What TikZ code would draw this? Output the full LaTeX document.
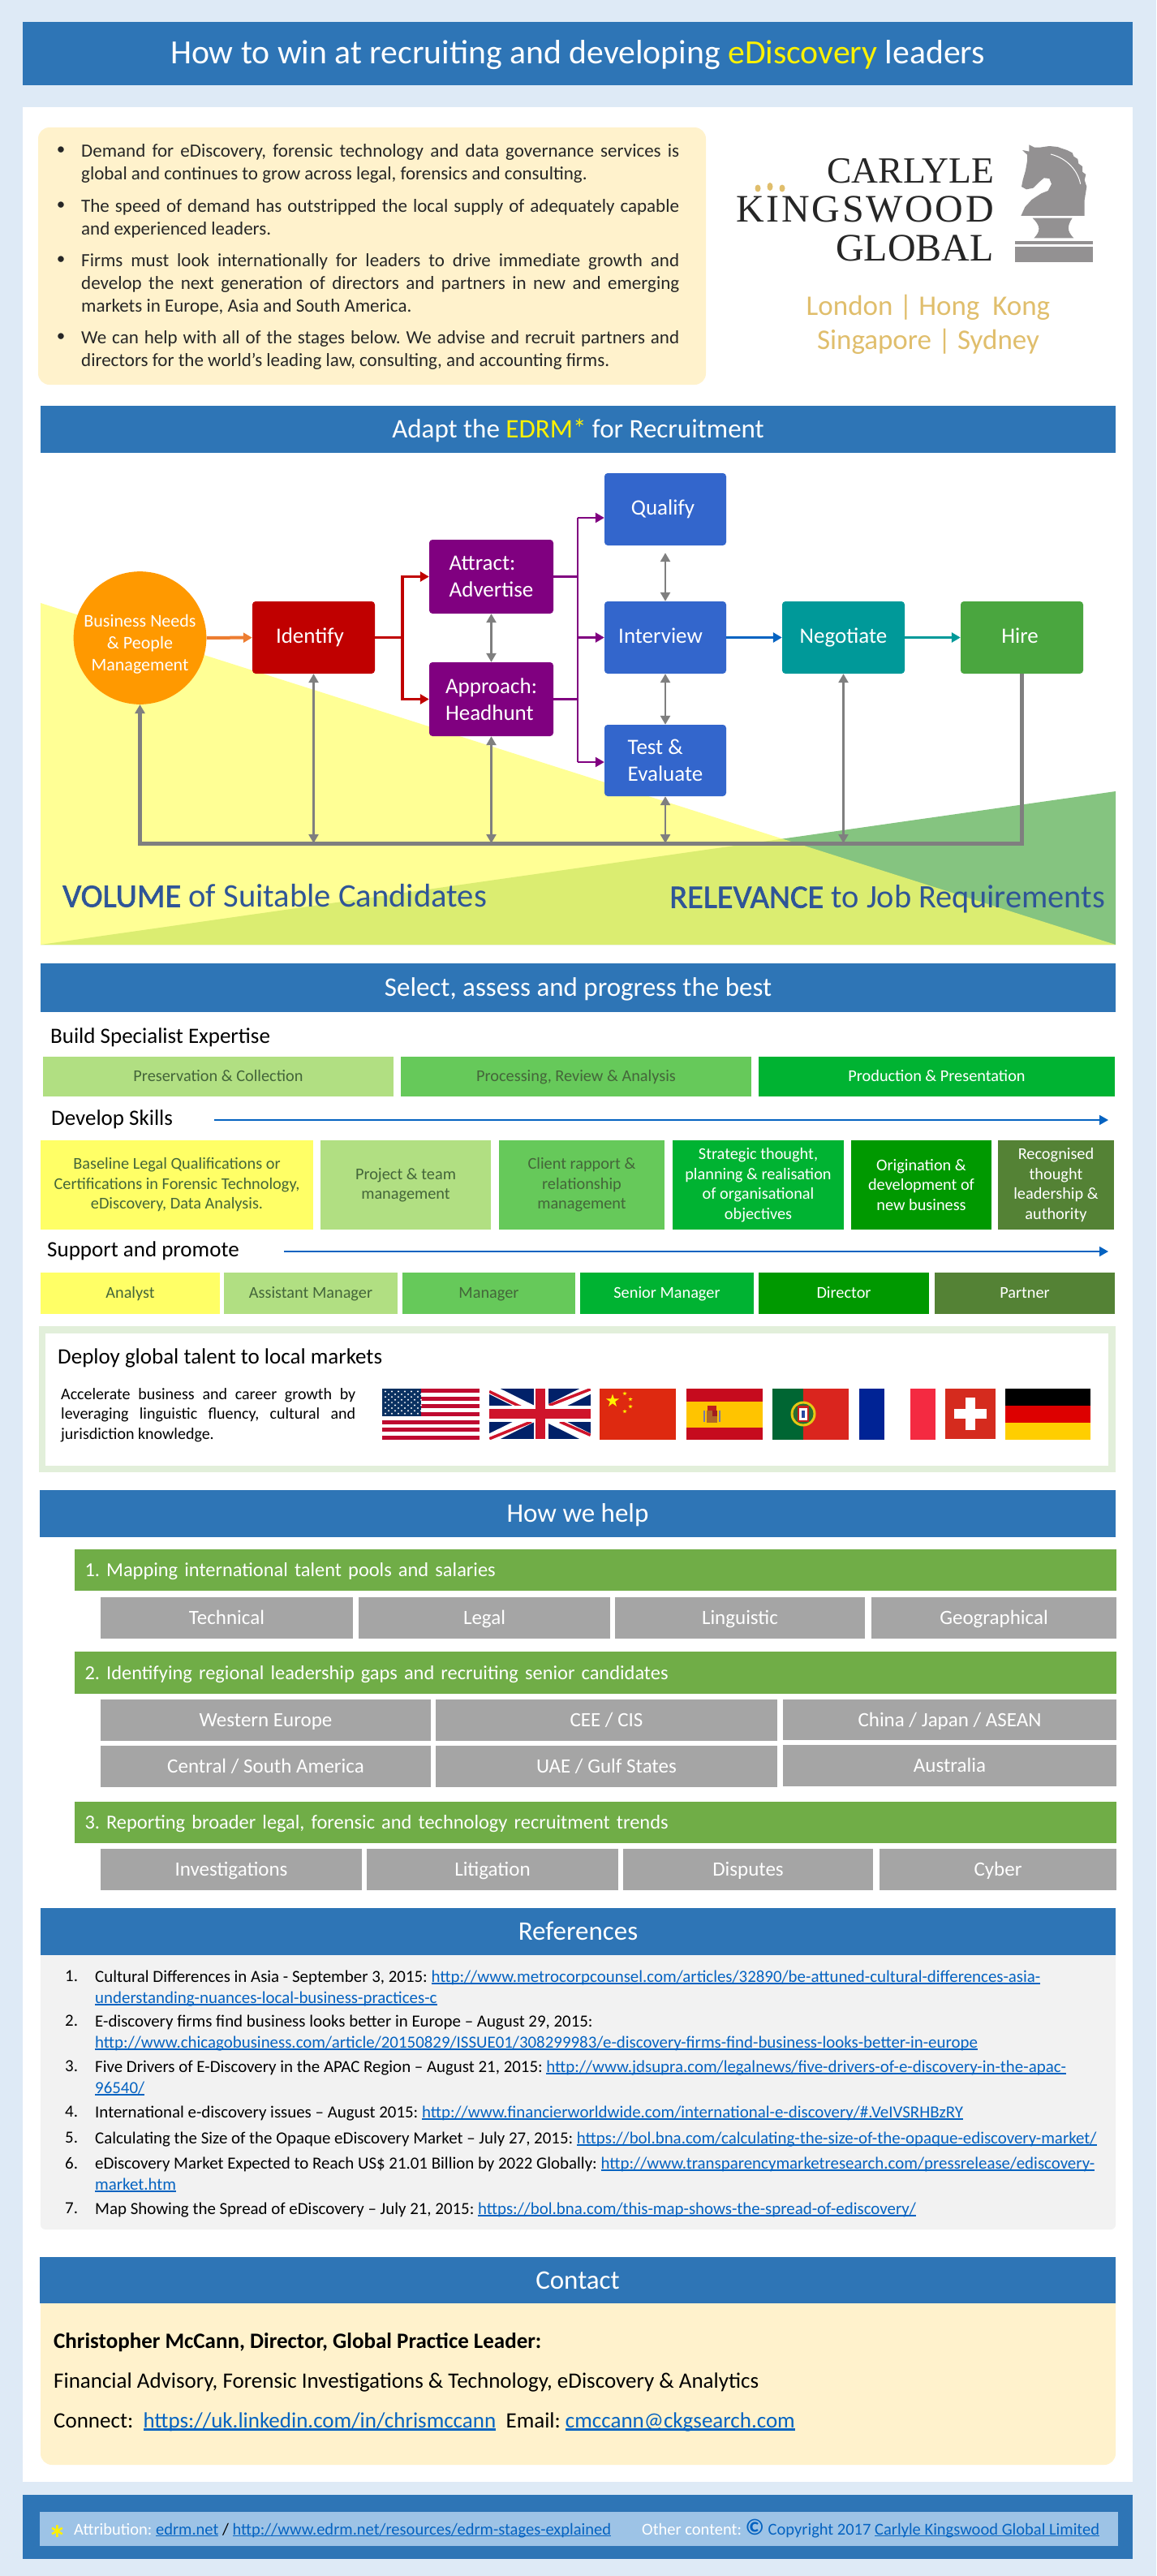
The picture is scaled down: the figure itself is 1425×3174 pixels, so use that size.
\documentclass[tikz,border=0pt]{standalone}
\usepackage{fontspec}
\setmainfont{Carlito}
\newfontfamily\logofont{Liberation Serif}
\usepackage{tikz}
\usetikzlibrary{arrows.meta,shapes.geometric}
\definecolor{pagebg}{HTML}{DEEAF6}
\definecolor{barblue}{HTML}{2E75B6}
\definecolor{footblue}{HTML}{9DC3E6}
\definecolor{cream}{HTML}{FFF2CC}
\definecolor{gold}{HTML}{E0BE6C}
\definecolor{knight}{HTML}{939192}
\definecolor{flowred}{HTML}{C00000}
\definecolor{flowpurple}{HTML}{800080}
\definecolor{flowblue}{HTML}{3366CC}
\definecolor{flowteal}{HTML}{009999}
\definecolor{flowgreen}{HTML}{4AA63F}
\definecolor{flowgrey}{HTML}{7F7F7F}
\definecolor{linkblue}{HTML}{0563C1}
\definecolor{headblue}{HTML}{2F5597}
\definecolor{lightgreen}{HTML}{B1DF82}
\definecolor{midgreen}{HTML}{66C95A}
\definecolor{stronggreen}{HTML}{00B332}
\definecolor{darkgreen}{HTML}{009900}
\definecolor{olive}{HTML}{548235}
\definecolor{softyellow}{HTML}{FFFF66}
\definecolor{helpgreen}{HTML}{70AD47}
\definecolor{helpgrey}{HTML}{A5A5A5}
\definecolor{dimtext}{HTML}{44663A}
\newsavebox{\linkbox}
\newcommand{\linktext}[1]{\textcolor{linkblue}{\sbox{\linkbox}{#1}\rlap{\rule[-.11em]{\wd\linkbox}{.075em}}\usebox{\linkbox}}}
\tikzstyle{sectionbar}=[
  fill=barblue,text=white,inner sep=0pt,align=center,text height=25.5pt,text depth=4pt,font=\fontsize{33}{40}\selectfont
]
\tikzstyle{stage}=[
  rounded corners=4pt,inner sep=0pt,text=white,align=left,font=\fontsize{27}{33}\selectfont
]
\tikzstyle{oneword}=[
  text height=20pt,text depth=6pt
]
\tikzstyle{cell}=[
  inner sep=0pt,align=center,font=\fontsize{20.3}{24.5}\selectfont
]
\tikzstyle{oneline}=[
  text height=16pt,text depth=4pt
]
\tikzstyle{helpbar}=[
  fill=helpgreen,text=white,inner xsep=12.5pt,inner ysep=0pt,text width=1259pt,align=left,text height=20pt,text depth=4pt,font=\fontsize{24.4}{30}\selectfont
]
\tikzstyle{helpcell}=[
  fill=helpgrey,text=white,inner sep=0pt,text height=20pt,text depth=4pt,font=\fontsize{25}{30}\selectfont
]
\tikzstyle{plainline}=[
  anchor=west,inner sep=0pt,text height=.68em,text depth=.18em
]
\tikzstyle{subhead}=[
  plainline,font=\fontsize{27}{33}\selectfont
]
\tikzstyle{para}=[
  anchor=north west,inner sep=0pt,text width=737pt,align=justify,text=black!85,font=\fontsize{23}{28}\selectfont
]
\tikzstyle{refline}=[
  anchor=north west,inner sep=0pt,align=left,font=\fontsize{20.9}{25.5}\selectfont
]
\tikzstyle{footline}=[
  plainline,font=\fontsize{20.5}{25}\selectfont
]
\tikzset{
  boxsize/.style 2 args={minimum width=#1 pt,minimum height=#2 pt},
  flowtip/.style={-{Triangle[length=11pt,width=12pt]}},
  greyarrow/.style={{Triangle[length=11pt,width=12pt]}-{Triangle[length=11pt,width=12pt]},draw=flowgrey,line width=2.5pt},
  redline/.style={draw=flowred,line width=3.5pt},
  purpleline/.style={draw=flowpurple,line width=2.5pt},
  bulletdot/.style={inner sep=0pt,text=black!85,font=\fontsize{21}{28}\selectfont},
  thinblue/.style={flowtip,draw=linkblue,line width=1.8pt},
}
\begin{document}
\frenchspacing
\begin{tikzpicture}[x=1pt,y=-1pt]
  \fill [pagebg] (0,0) rectangle (1425,3174);
  \useasboundingbox (0,0) rectangle (1425,3174);
  \fill [white] (28,132) rectangle (1396,3058);
  \fill [barblue] (28,3074) rectangle (1396,3153);
  \fill [footblue] (49,3095) rectangle (1378,3137);
  % title and intro
  \node (title) at (712,66) [sectionbar,boxsize={1368}{78},text height=30pt,font=\fontsize{41.7}{50}\selectfont] {How to win at recruiting and developing \textcolor{yellow}{eDiscovery} leaders};
  \node (intro) at (458.5,315.5) [fill=cream,rounded corners=14pt,boxsize={823}{317},inner sep=0pt] {};
  \node (b1) at (75,186) [bulletdot] {\textbullet};
  \node (p1) at (100,177) [para] {Demand for eDiscovery, forensic technology and data governance services is\linebreak global and continues to grow across legal, forensics and consulting.};
  \node (b2) at (75,254) [bulletdot] {\textbullet};
  \node (p2) at (100,245) [para] {The speed of demand has outstripped the local supply of adequately capable\linebreak and experienced leaders.};
  \node (b3) at (75,321) [bulletdot] {\textbullet};
  \node (p3) at (100,312) [para] {Firms must look internationally for leaders to drive immediate growth and\linebreak develop the next generation of directors and partners in new and emerging\linebreak markets in Europe, Asia and South America.};
  \node (b4) at (75,416) [bulletdot] {\textbullet};
  \node (p4) at (100,407) [para] {We can help with all of the stages below. We advise and recruit partners and\linebreak directors for the world's leading law, consulting, and accounting firms.};
  % logo
  \node (carlyle) at (1225,211) [anchor=east,inner sep=0pt,font=\logofont\fontsize{45.5}{50}\selectfont,text=black!85] {CARLYLE};
  \node (kingswood) at (1225,258) [anchor=east,inner sep=0pt,font=\logofont\fontsize{48}{50}\selectfont\addfontfeature{LetterSpace=5.5},text=black!85] {KINGSWOOD};
  \node (global) at (1225,306) [anchor=east,inner sep=0pt,font=\logofont\fontsize{48}{50}\selectfont,text=black!85] {GLOBAL};
  \fill [gold] (934,232) ellipse (3.5pt and 4.5pt);
  \fill [gold] (949,230) ellipse (3.5pt and 5pt);
  \fill [gold] (964,232) ellipse (3.5pt and 4.5pt);
  \begin{scope}[shift={(1240,170)},x=.3333pt,y=-.3333pt]
    \fill [knight] (55,288) -- (70,255) -- (95,228) -- (130,205) -- (155,195) -- (168,170) -- (160,150) -- (140,148) -- (120,165) -- (100,185) -- (75,190) -- (57,180) -- (62,155) -- (72,120) -- (78,85) -- (78,62) -- (60,45) -- (85,50) -- (85,25) -- (105,35) -- (125,35) -- (160,30) -- (190,33) -- (225,45) -- (245,55) -- (250,68) -- (265,78) -- (268,95) -- (282,105) -- (282,125) -- (295,135) -- (290,155) -- (298,180) -- (290,230) -- (290,288) -- cycle;
    \draw [white,line width=1pt] (165,60) .. controls (225,75) and (265,120) .. (275,170);
    \fill [knight] (98,296) -- (245,296) .. controls (225,325) and (225,345) .. (250,370) -- (103,370) .. controls (128,345) and (128,325) .. (98,296) -- cycle;
    \fill [knight] (33,380) rectangle (322,393);
    \fill [knight] (33,402) rectangle (322,458);
  \end{scope}
  \node (london) at (1144,379) [inner sep=0pt,text=gold,font=\fontsize{35}{42}\selectfont] {London | Hong \ Kong};
  \node (singapore) at (1144,421) [inner sep=0pt,text=gold,font=\fontsize{35}{42}\selectfont] {Singapore | Sydney};
  % EDRM flow
  \node (adapt) at (712.5,529) [sectionbar,boxsize={1325}{58}] {Adapt the \textcolor{yellow}{EDRM*} for Recruitment};
  \fill [fill={rgb,255:red,133;green,196;blue,128}] (1375,975) -- (1375,1164) -- (50,1164) -- cycle;
  \fill [fill={rgb,255:red,255;green,255;blue,107},fill opacity=.71] (50,743) -- (1375,1164) -- (50,1164) -- cycle;
  \node (needs) at (172.5,786) [circle,fill={rgb,255:red,255;green,153;blue,0},minimum size=159pt,inner sep=0pt,text=white,align=center,font=\fontsize{22}{27}\selectfont] {\rule{0pt}{31pt}Business Needs\\\& People\\Management};
  \node (identify) at (386.5,785.5) [stage,oneword,fill=flowred,boxsize={151}{89}] {Identify\kern9pt};
  \node (attract) at (605.5,710.5) [stage,fill=flowpurple,boxsize={153}{91}] {Attract:\\Advertise};
  \node (approach) at (605.5,861.5) [stage,fill=flowpurple,boxsize={153}{91}] {Approach:\\Headhunt};
  \node (qualify) at (820,627.5) [stage,oneword,fill=flowblue,boxsize={150}{89}] {Qualify\kern6pt};
  \node (interview) at (820,785.5) [stage,oneword,fill=flowblue,boxsize={150}{89}] {Interview\kern12pt};
  \node (test) at (820,937) [stage,fill=flowblue,boxsize={150}{88}] {Test \&\\Evaluate};
  \node (negotiate) at (1039.5,785.5) [stage,oneword,fill=flowteal,boxsize={151}{89}] {Negotiate};
  \node (hire) at (1259.5,785.5) [stage,oneword,fill=flowgreen,boxsize={151}{89}] {Hire\kern5pt};
  \coordinate (redjoint) at (496,785.5);
  \coordinate (purpletop) at (712,638);
  \coordinate (purplemid) at (712,785.5);
  \coordinate (purplebottom) at (712,939);
  \coordinate (busright) at (1259.5,1039);
  \coordinate (busleft) at (172.5,1039);
  \draw [flowtip,draw={rgb,255:red,237;green,125;blue,49},line width=4pt] (needs) -- (identify);
  \draw [redline] (identify) -- (redjoint);
  \draw [redline,flowtip] (redjoint) |- (attract);
  \draw [redline,flowtip] (redjoint) |- (approach);
  \draw [purpleline] (attract) -- (attract -| purpletop);
  \draw [purpleline] (approach) -- (approach -| purpletop);
  \draw [purpleline] (purpletop) -- (purplebottom);
  \draw [purpleline,flowtip] (purpletop) -- (purpletop -| qualify.west);
  \draw [purpleline,flowtip] (purplemid) -- (interview);
  \draw [purpleline,flowtip] (purplebottom) -- (purplebottom -| test.west);
  \draw [flowtip,draw=linkblue,line width=3pt] (interview) -- (negotiate);
  \draw [flowtip,draw=flowteal,line width=3pt] (negotiate) -- (hire);
  \draw [greyarrow] (attract) -- (approach);
  \draw [greyarrow,shorten <=9pt] (qualify) -- (interview);
  \draw [greyarrow] (interview) -- (test);
  \draw [greyarrow] (identify) -- (identify |- busleft);
  \draw [greyarrow] (approach) -- (approach |- busleft);
  \draw [greyarrow] (test) -- (test |- busleft);
  \draw [greyarrow] (negotiate) -- (negotiate |- busleft);
  \draw [flowtip,draw=flowgrey,line width=5pt,line join=miter] (hire) -- (busright) -- (busleft) -- (needs);
  \node (volume) at (77,1115) [plainline,text=headblue,font=\fontsize{40.6}{48}\selectfont] {{\addfontfeature{FakeBold=1.6}VOLUME} of Suitable Candidates};
  \node (relevance) at (825,1116) [plainline,text=headblue,font=\fontsize{40.4}{48}\selectfont] {{\addfontfeature{FakeBold=1.6}RELEVANCE} to Job Requirements};
  % select, assess, progress
  \node (select) at (712.5,1217) [sectionbar,boxsize={1325}{60}] {Select, assess and progress the best};
  \node (expertise) at (62,1283) [subhead] {Build Specialist Expertise};
  \node (pres) at (269,1326.5) [cell,oneline,fill=lightgreen,text=dimtext,boxsize={432}{49}] {Preservation \& Collection};
  \node (proc) at (710,1326.5) [cell,oneline,fill=midgreen,text=dimtext,boxsize={432}{49}] {Processing, Review \& Analysis};
  \node (prod) at (1154.5,1326.5) [cell,oneline,fill=stronggreen,text=white,boxsize={439}{49}] {Production \& Presentation};
  \node (skills) at (63,1383.5) [subhead] {Develop Skills};
  \coordinate (skillsstart) at (264,1380);
  \coordinate (skillsend) at (1366,1380);
  \draw [thinblue] (skillsstart) -- (skillsend);
  \node (base) at (218,1460) [cell,fill=softyellow,text=dimtext,boxsize={336}{110}] {Baseline Legal Qualifications or\\Certifications in Forensic Technology,\\eDiscovery, Data Analysis.};
  \node (proj) at (500,1460) [cell,fill=lightgreen,text=dimtext,boxsize={210}{110}] {Project \& team\\management};
  \node (client) at (717,1460) [cell,fill=midgreen,text=dimtext,boxsize={204}{110}] {Client rapport \&\\relationship\\management};
  \node (strat) at (934.5,1460) [cell,fill=stronggreen,text=white,boxsize={211}{110}] {Strategic thought,\\planning \& realisation\\of organisational\\objectives};
  \node (orig) at (1135.5,1460) [cell,fill=darkgreen,text=white,boxsize={173}{110}] {Origination \&\\development of\\new business};
  \node (recog) at (1301.5,1460) [cell,fill=olive,text=white,boxsize={143}{110}] {Recognised\\thought\\leadership \&\\authority};
  \node (support) at (58,1546) [subhead] {Support and promote};
  \coordinate (supportstart) at (350,1542);
  \coordinate (supportend) at (1366,1542);
  \draw [thinblue] (supportstart) -- (supportend);
  \node (analyst) at (160.5,1593.5) [cell,oneline,fill=softyellow,text=dimtext,boxsize={221}{51}] {Analyst};
  \node (assist) at (383,1593.5) [cell,oneline,fill=lightgreen,text=dimtext,boxsize={214}{51}] {Assistant Manager};
  \node (manager) at (602.5,1593.5) [cell,oneline,fill=midgreen,text=dimtext,boxsize={213}{51}] {Manager};
  \node (senior) at (822,1593.5) [cell,oneline,fill=stronggreen,text=white,boxsize={214}{51}] {Senior Manager};
  \node (director) at (1040,1593.5) [cell,oneline,fill=darkgreen,text=white,boxsize={210}{51}] {Director};
  \node (partner) at (1263,1593.5) [cell,oneline,fill=olive,text=white,boxsize={222}{51}] {Partner};
  % global talent and flags
  \draw [draw={rgb,255:red,226;green,239;blue,218},line width=8.5pt] (52,1638.5) rectangle (1370.5,1810);
  \node (deploy) at (71,1678) [subhead] {Deploy global talent to local markets};
  \node (accel) at (75,1710) [anchor=north west,inner sep=0pt,text width=363pt,align=justify,font=\fontsize{20}{24.5}\selectfont] {Accelerate business and career growth by\linebreak leveraging linguistic fluency, cultural and\linebreak jurisdiction knowledge.};
  % USA
  \fill [white] (471,1711) rectangle (591,1774);
  \foreach \st in {0,2,...,12}
    \fill [fill={rgb,255:red,191;green,10;blue,48}] (471,1711+\st*4.846) rectangle (591,1711+\st*4.846+4.846);
  \fill [fill={rgb,255:red,10;green,49;blue,97}] (471,1711) rectangle (519,1745);
  \foreach \rw in {0,...,8}
    \foreach \cl in {0,...,5}
      \fill [white] ({475+\cl*8+mod(\rw,2)*4},{1714.5+\rw*3.4}) circle (1.1pt);
  % UK
  \begin{scope}
    \clip (603,1711) rectangle (728,1773);
    \fill [fill={rgb,255:red,1;green,33;blue,105}] (603,1711) rectangle (728,1773);
    \draw [white,line width=12pt] (603,1711) -- (728,1773);
    \draw [white,line width=12pt] (603,1773) -- (728,1711);
    \draw [draw={rgb,255:red,207;green,20;blue,43},line width=3.5pt] (603,1714.5) -- (645,1735);
    \draw [draw={rgb,255:red,207;green,20;blue,43},line width=3.5pt] (727.7,1711.7) -- (676.7,1731.7);
    \draw [draw={rgb,255:red,207;green,20;blue,43},line width=3.5pt] (603.3,1772.7) -- (655,1751.7);
    \draw [draw={rgb,255:red,207;green,20;blue,43},line width=3.5pt] (690,1751.7) -- (727.7,1768.3);
    \fill [white] (658,1711) rectangle (676,1773);
    \fill [white] (603,1732) rectangle (728,1752);
    \fill [fill={rgb,255:red,207;green,20;blue,43}] (660,1711) rectangle (672,1773);
    \fill [fill={rgb,255:red,207;green,20;blue,43}] (603,1736) rectangle (728,1748);
  \end{scope}
  % China
  \fill [fill={rgb,255:red,222;green,41;blue,16}] (739,1711) rectangle (833,1774);
  \node (cnbig) at (755,1726) [star,star points=5,star point ratio=2.6,fill=yellow,minimum size=17pt,inner sep=0pt] {};
  \node (cna) at (770,1717) [star,star points=5,star point ratio=2.6,fill=yellow,minimum size=5.5pt,inner sep=0pt] {};
  \node (cnb) at (777,1724) [star,star points=5,star point ratio=2.6,fill=yellow,minimum size=5.5pt,inner sep=0pt] {};
  \node (cnc) at (777,1733) [star,star points=5,star point ratio=2.6,fill=yellow,minimum size=5.5pt,inner sep=0pt] {};
  \node (cnd) at (770,1739) [star,star points=5,star point ratio=2.6,fill=yellow,minimum size=5.5pt,inner sep=0pt] {};
  % Spain
  \fill [fill={rgb,255:red,198;green,11;blue,30}] (846,1711) rectangle (940,1774);
  \fill [fill={rgb,255:red,255;green,196;blue,0}] (846,1726.5) rectangle (940,1758.5);
  \fill [fill={rgb,255:red,176;green,102;blue,40}] (871,1738) rectangle (884,1753);
  \fill [fill={rgb,255:red,190;green,30;blue,30}] (872,1732) rectangle (883,1738);
  \fill [fill={rgb,255:red,160;green,30;blue,30}] (878,1738) rectangle (884,1745);
  \fill [fill={rgb,255:red,120;green,120;blue,170}] (867,1738) rectangle (869,1752);
  \fill [fill={rgb,255:red,120;green,120;blue,170}] (886,1738) rectangle (888,1752);
  % Portugal
  \fill [fill={rgb,255:red,0;green,102;blue,51}] (952,1711) rectangle (990,1774);
  \fill [fill={rgb,255:red,218;green,37;blue,30}] (990,1711) rectangle (1046,1774);
  \fill [fill={rgb,255:red,230;green,200;blue,20}] (990,1742) circle (15.5pt);
  \fill [fill={rgb,255:red,40;green,110;blue,50}] (990,1742) circle (12.5pt);
  \fill [fill={rgb,255:red,200;green,30;blue,30}] (983,1732) rectangle (997,1752);
  \fill [white] (985,1735) rectangle (995,1750);
  \fill [fill={rgb,255:red,40;green,70;blue,160}] (988,1738) rectangle (992,1747);
  % France
  \fill [fill={rgb,255:red,0;green,35;blue,149}] (1059,1711) rectangle (1090,1774);
  \fill [fill={rgb,255:red,244;green,42;blue,65}] (1122,1711) rectangle (1153,1774);
  % Switzerland
  \fill [fill={rgb,255:red,213;green,43;blue,30}] (1165,1711) rectangle (1227,1773);
  \fill [white] (1190,1722) rectangle (1202,1762);
  \fill [white] (1176,1736) rectangle (1216,1748);
  % Germany
  \fill [black] (1239,1711) rectangle (1344,1732);
  \fill [fill={rgb,255:red,221;green,0;blue,0}] (1239,1732) rectangle (1344,1753);
  \fill [fill={rgb,255:red,255;green,206;blue,0}] (1239,1753) rectangle (1344,1774);
  % how we help
  \node (help) at (712,1865) [sectionbar,boxsize={1326}{58}] {How we help};
  \node (map) at (734,1934.5) [helpbar,minimum height=51pt] {1. Mapping international talent pools and salaries};
  \node (tech) at (279.5,1993.5) [helpcell,boxsize={311}{51}] {Technical};
  \node (legal) at (597,1993.5) [helpcell,boxsize={310}{51}] {Legal};
  \node (ling) at (912,1993.5) [helpcell,boxsize={308}{51}] {Linguistic};
  \node (geo) at (1225,1993.5) [helpcell,boxsize={302}{51}] {Geographical};
  \node (gaps) at (734,2061) [helpbar,minimum height=52pt] {2. Identifying regional leadership gaps and recruiting senior candidates};
  \node (west) at (327.5,2119.5) [helpcell,boxsize={407}{51}] {Western Europe};
  \node (cee) at (747.5,2119.5) [helpcell,boxsize={421}{51}] {CEE / CIS};
  \node (china) at (1170.5,2119) [helpcell,boxsize={411}{50}] {China / Japan / ASEAN};
  \node (south) at (327.5,2176.5) [helpcell,boxsize={407}{51}] {Central / South America};
  \node (uae) at (747.5,2176.5) [helpcell,boxsize={421}{51}] {UAE / Gulf States};
  \node (aus) at (1170.5,2175.5) [helpcell,boxsize={411}{51}] {Australia};
  \node (trends) at (734,2245.5) [helpbar,minimum height=51pt] {3. Reporting broader legal, forensic and technology recruitment trends};
  \node (invest) at (285,2303.5) [helpcell,boxsize={322}{51}] {Investigations};
  \node (litig) at (607,2303.5) [helpcell,boxsize={310}{51}] {Litigation};
  \node (disp) at (922,2303.5) [helpcell,boxsize={308}{51}] {Disputes};
  \node (cyber) at (1230,2303.5) [helpcell,boxsize={292}{51}] {Cyber};
  % references
  \node (refpanel) at (712.5,2571) [fill=black!5,rounded corners=6pt,boxsize={1325}{352},inner sep=0pt] {};
  \node (refs) at (712.5,2380) [sectionbar,boxsize={1325}{58}] {References};
  \node (n1) at (80,2428) [refline] {1.};
  \node (r1) at (117,2428) [refline] {Cultural Differences in Asia - September 3, 2015: \linktext{http://www.metrocorpcounsel.com/articles/32890/be-attuned-cultural-differences-asia-}\\\linktext{understanding-nuances-local-business-practices-c}};
  \node (n2) at (80,2483) [refline] {2.};
  \node (r2) at (117,2483) [refline] {E-discovery firms find business looks better in Europe -- August 29, 2015:\\\linktext{http://www.chicagobusiness.com/article/20150829/ISSUE01/308299983/e-discovery-firms-find-business-looks-better-in-europe}};
  \node (n3) at (80,2539) [refline] {3.};
  \node (r3) at (117,2539) [refline] {Five Drivers of E-Discovery in the APAC Region -- August 21, 2015: \linktext{http://www.jdsupra.com/legalnews/five-drivers-of-e-discovery-in-the-apac-}\\\linktext{96540/}};
  \node (n4) at (80,2595) [refline] {4.};
  \node (r4) at (117,2595) [refline] {International e-discovery issues -- August 2015: \linktext{http://www.financierworldwide.com/international-e-discovery/\#.VeIVSRHBzRY}};
  \node (n5) at (80,2627) [refline] {5.};
  \node (r5) at (117,2627) [refline] {Calculating the Size of the Opaque eDiscovery Market -- July 27, 2015: \linktext{https://bol.bna.com/calculating-the-size-of-the-opaque-ediscovery-market/}};
  \node (n6) at (80,2658) [refline] {6.};
  \node (r6) at (117,2658) [refline] {eDiscovery Market Expected to Reach US\$ 21.01 Billion by 2022 Globally: \linktext{http://www.transparencymarketresearch.com/pressrelease/ediscovery-}\\\linktext{market.htm}};
  \node (n7) at (80,2714) [refline] {7.};
  \node (r7) at (117,2714) [refline] {Map Showing the Spread of eDiscovery -- July 21, 2015: \linktext{https://bol.bna.com/this-map-shows-the-spread-of-ediscovery/}};
  % contact
  \node (contactpanel) at (712.5,2931) [fill=cream,rounded corners=14pt,boxsize={1325}{212},inner sep=0pt] {};
  \node (contact) at (712,2809.5) [sectionbar,boxsize={1326}{57}] {Contact};
  \node (who) at (66,2891) [subhead] {\textbf{Christopher McCann, Director, Global Practice Leader:}};
  \node (fields) at (66,2940) [subhead] {Financial Advisory, Forensic Investigations \& Technology, eDiscovery \& Analytics};
  \node (connect) at (66,2989) [subhead] {Connect:\ \ \linktext{https://uk.linkedin.com/in/chrismccann}\ \ Email: \linktext{cmccann@ckgsearch.com}};
  % footer
  \node (asterisk) at (71,3128) [inner sep=0pt,text=yellow,font=\bfseries\fontsize{46}{50}\selectfont] {*};
  \node (attrib) at (91,3120.5) [footline] {\textcolor{white}{Attribution:} \linktext{edrm.net} / \linktext{http://www.edrm.net/resources/edrm-stages-explained}};
  \node (other) at (791,3120.5) [footline] {\textcolor{white}{Other content:} \textcolor{linkblue}{\fontsize{28}{25}\selectfont\textbf{©}} \textcolor{linkblue}{Copyright 2017} \linktext{Carlyle Kingswood Global Limited}};
\end{tikzpicture}
\end{document}
